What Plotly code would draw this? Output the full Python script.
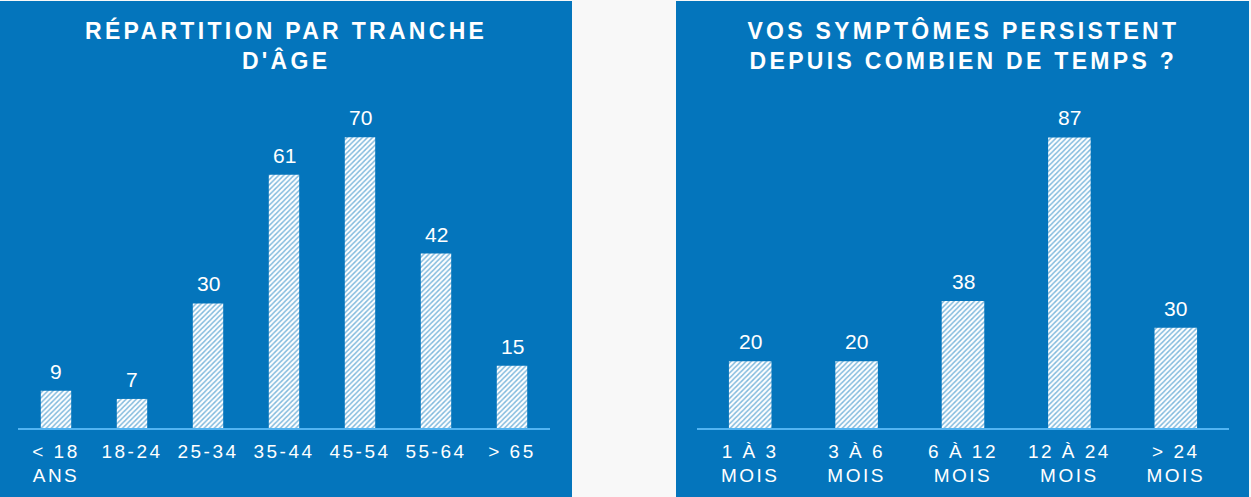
import plotly.graph_objects as go

W, H = 1251, 497

age_groups = ["< 18<br>ANS", "18-24", "25-34", "35-44", "45-54", "55-64", "> 65"]
age_counts = [9, 7, 30, 61, 70, 42, 15]

durations = ["1 À 3<br>MOIS", "3 À 6<br>MOIS", "6 À 12<br>MOIS", "12 À 24<br>MOIS", "> 24<br>MOIS"]
duration_counts = [20, 20, 38, 87, 30]

titles = ["RÉPARTITION PAR TRANCHE<br>D'ÂGE",
          "VOS SYMPTÔMES PERSISTENT<br>DEPUIS COMBIEN DE TEMPS ?"]

BLUE = "#0475bc"
AXIS_LINE = "#52b4f2"
BG = "#f8f8f8"
FONT = "Liberation Sans, Arial, sans-serif"


def px_x(p):
    return p / W


def px_y(p):
    # pixel row from top -> paper fraction
    return (H - p) / H


fig = go.Figure()

hatch = dict(shape="/", fgcolor=BLUE, bgcolor="white", size=3.6, solidity=0.42)

fig.add_trace(go.Bar(x=age_groups, y=age_counts, xaxis="x", yaxis="y",
                     marker=dict(color="white", line_width=0, pattern=hatch),
                     hoverinfo="x+y"))
fig.add_trace(go.Bar(x=durations, y=duration_counts, xaxis="x2", yaxis="y2",
                     marker=dict(color="white", line_width=0, pattern=hatch),
                     hoverinfo="x+y"))

# blue panels
for x0, x1 in [(0, 572), (676, 1249)]:
    fig.add_shape(type="rect", xref="paper", yref="paper",
                  x0=px_x(x0), x1=px_x(x1), y0=0, y1=px_y(1),
                  fillcolor=BLUE, line_width=0, layer="below")

annotations = []
# titles
for cx, t in zip([286, 963], titles):
    annotations.append(dict(text="<b>%s</b>" % t, xref="paper", yref="paper",
                            x=px_x(cx), y=px_y(45), xanchor="center", yanchor="middle",
                            showarrow=False, align="center",
                            font=dict(family=FONT, size=23, color="white")))
# value labels
for xa, ya, cats, vals in [("x", "y", age_groups, age_counts),
                           ("x2", "y2", durations, duration_counts)]:
    for c, v in zip(cats, vals):
        annotations.append(dict(text=str(v), xref=xa, yref=ya, x=c, y=v,
                                xanchor="center", yanchor="bottom", yshift=6,
                                showarrow=False,
                                font=dict(family=FONT, size=21, color="white")))

axis_common = dict(showgrid=False, zeroline=False, showline=True, linecolor=AXIS_LINE,
                   linewidth=1.5, ticks="", tickfont=dict(family=FONT, size=19, color="white"),
                   fixedrange=True, ticklabelstandoff=5)
yaxis_common = dict(visible=False, fixedrange=True)

fig.update_layout(
    width=W, height=H,
    margin=dict(l=0, r=0, t=0, b=0),
    paper_bgcolor=BG,
    plot_bgcolor="rgba(0,0,0,0)",
    showlegend=False,
    bargap=0.6,
    xaxis=dict(domain=[px_x(18), px_x(550)], anchor="y", **axis_common),
    yaxis=dict(domain=[px_y(428), px_y(100)], range=[0, 79.0], anchor="x", **yaxis_common),
    xaxis2=dict(domain=[px_x(697), px_x(1229)], anchor="y2", **axis_common),
    yaxis2=dict(domain=[px_y(428), px_y(100)], range=[0, 98.2], anchor="x2", **yaxis_common),
    annotations=annotations,
)

# letter spacing is not a plotly font option, so it is set on the svg text afterwards
post = """
document.body.style.margin = '0';
var gd = document.getElementById('{plot_id}');
gd.querySelectorAll('.xtick text, .x2tick text').forEach(function (t) { t.style.letterSpacing = '2.5px'; });
gd.querySelectorAll('g.annotation[data-index="0"] text, g.annotation[data-index="1"] text')
  .forEach(function (t) { t.style.letterSpacing = '3.3px'; });
"""

fig.write_html("out.html", post_script=post, config={"displayModeBar": False})
